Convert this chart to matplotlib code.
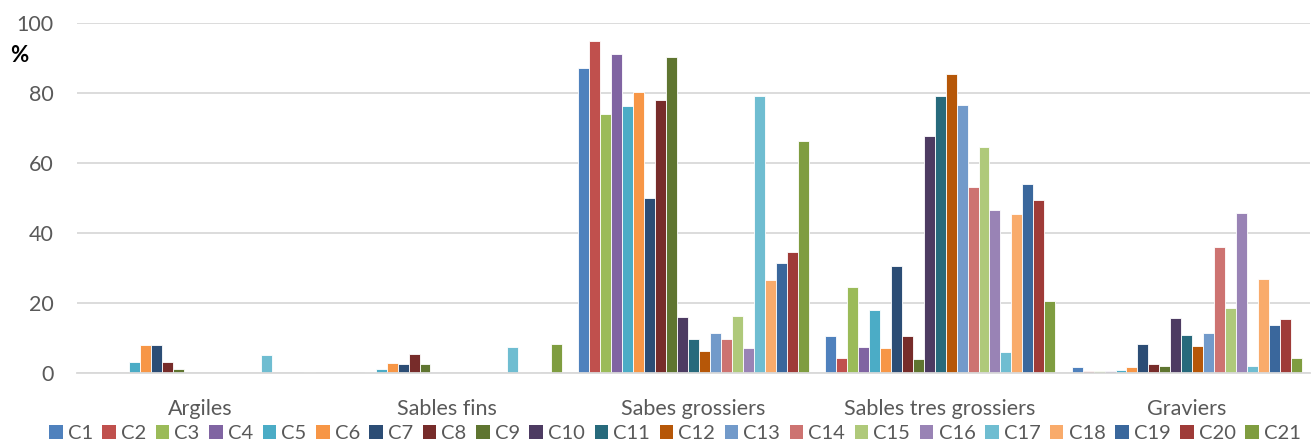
import numpy as np
import matplotlib
matplotlib.use("Agg")
import matplotlib.pyplot as plt
from matplotlib.patches import Patch

plt.rcParams['font.family'] = ['Lato', 'DejaVu Sans']

categories = ["Argiles", "Sables fins", "Sabes grossiers", "Sables tres grossiers", "Graviers"]
series_names = [f"C{i}" for i in range(1, 22)]

# percentage of each fraction per sample (rows: C1..C21, columns: categories)
C1 = [0.0, 0.0, 87.1, 10.6, 1.6]
C2 = [0.0, 0.0, 94.9, 4.3, 0.5]
C3 = [0.0, 0.0, 74.0, 24.6, 0.5]
C4 = [0.0, 0.3, 91.2, 7.5, 0.5]
C5 = [3.2, 1.0, 76.4, 18.0, 0.9]
C6 = [7.9, 2.9, 80.3, 7.1, 1.6]
C7 = [8.1, 2.5, 50.0, 30.7, 8.2]
C8 = [3.0, 5.3, 78.0, 10.6, 2.7]
C9 = [1.2, 2.7, 90.3, 3.9, 1.9]
C10 = [0.0, 0.3, 15.9, 67.7, 15.7]
C11 = [0.0, 0.0, 9.6, 79.1, 10.8]
C12 = [0.0, 0.0, 6.4, 85.4, 7.8]
C13 = [0.0, 0.0, 11.5, 76.7, 11.3]
C14 = [0.0, 0.0, 9.7, 53.2, 36.0]
C15 = [0.0, 0.0, 16.4, 64.7, 18.5]
C16 = [0.0, 0.0, 7.0, 46.7, 45.8]
C17 = [5.0, 7.3, 79.1, 6.1, 2.0]
C18 = [0.0, 0.4, 26.6, 45.5, 26.8]
C19 = [0.0, 0.3, 31.4, 54.1, 13.8]
C20 = [0.0, 0.0, 34.5, 49.4, 15.5]
C21 = [0.3, 8.2, 66.2, 20.7, 4.2]

series_values = [C1, C2, C3, C4, C5, C6, C7, C8, C9, C10, C11, C12, C13, C14,
                 C15, C16, C17, C18, C19, C20, C21]

colors = ["#4F81BD", "#C0504D", "#9BBB59", "#8064A2", "#4BACC6", "#F79646",
          "#2C4D75", "#772C2A", "#5F7530", "#4D3B62", "#276A7C", "#B65708",
          "#729ACA", "#CD7371", "#AFC97A", "#9983B5", "#6FBDD1", "#F9AB6B",
          "#3A679C", "#9F3B38", "#7F9D40"]

fig = plt.figure(figsize=(13.14, 4.44), dpi=100)
ax = fig.add_axes([0.0586, 0.160, 0.9384, 0.788])

n = len(series_values)
gap = 1.5
width = 1.0 / (n + gap)
x = np.arange(len(categories))
for i, (vals, name, col) in enumerate(zip(series_values, series_names, colors)):
    offs = (i - (n - 1) / 2) * width
    ax.bar(x + offs, vals, width=width, color=col, edgecolor="white",
           linewidth=0.6, label=name, zorder=3)

ax.set_xlim(-0.5, len(categories) - 0.5)
ax.set_ylim(0, 100)
ax.set_yticks(np.arange(0, 101, 20))
ax.yaxis.grid(True, color="#D9D9D9", linewidth=1.3, zorder=0)
ax.set_axisbelow(True)
for side in ["top", "right", "left"]:
    ax.spines[side].set_visible(False)
ax.spines["bottom"].set_color("#D9D9D9")
ax.spines["bottom"].set_linewidth(1.3)
ax.spines["bottom"].set_zorder(4)
ax.tick_params(axis="both", length=0, colors="#595959", labelsize=15.5)
ax.tick_params(axis="y", pad=17)
ax.tick_params(axis="x", pad=19)
ax.set_xticks(x)
ax.set_xticklabels(categories)

fig.text(0.008, 0.874, "%", fontsize=16, fontweight="bold", color="black",
         va="center", ha="left")

handles = [Patch(facecolor=c, edgecolor="none") for c in colors]
leg = fig.legend(handles, series_names, loc="center", bbox_to_anchor=(0.5135, 0.024),
                 ncol=n, frameon=False, fontsize=14.5, handlelength=0.68,
                 handleheight=0.68, handletextpad=0.25, columnspacing=0.47,
                 borderaxespad=0, borderpad=0)
for t in leg.get_texts():
    t.set_color("#595959")

fig.savefig("out.png", dpi=100)
